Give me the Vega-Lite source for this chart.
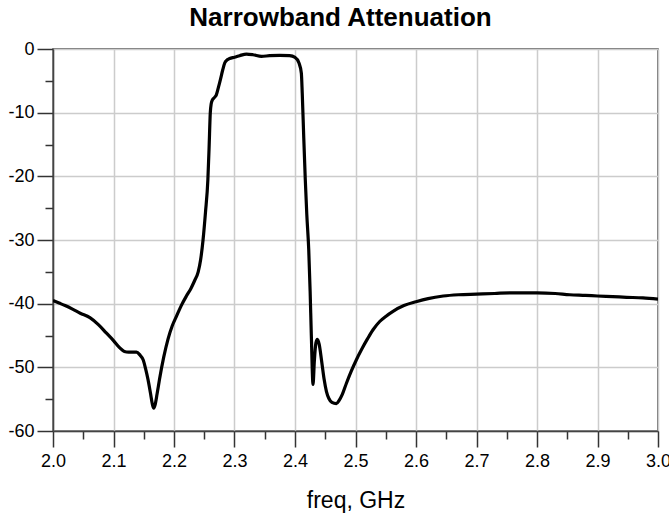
{
  "$schema": "https://vega.github.io/schema/vega-lite/v6.json",
  "autosize": "none",
  "width": 605,
  "height": 382,
  "padding": {"left": 53, "top": 49, "right": 11, "bottom": 86},
  "background": "white",
  "config": {
    "view": {"stroke": "#444444", "strokeWidth": 1.5},
    "font": "Liberation Sans"
  },
  "title": {
    "text": "Narrowband Attenuation",
    "fontSize": 26,
    "fontWeight": "bold",
    "font": "Liberation Sans",
    "color": "black",
    "offset": 9,
    "dx": -15
  },
  "data": {
    "values": [
      {"f": 2.000, "a": -39.5}, {"f": 2.010, "a": -39.9}, {"f": 2.020, "a": -40.3},
      {"f": 2.033, "a": -40.9}, {"f": 2.045, "a": -41.5}, {"f": 2.061, "a": -42.2},
      {"f": 2.075, "a": -43.3}, {"f": 2.088, "a": -44.6}, {"f": 2.100, "a": -45.8},
      {"f": 2.110, "a": -46.9}, {"f": 2.118, "a": -47.5}, {"f": 2.125, "a": -47.6},
      {"f": 2.138, "a": -47.6}, {"f": 2.144, "a": -48.1}, {"f": 2.149, "a": -48.8},
      {"f": 2.153, "a": -50.2}, {"f": 2.157, "a": -51.9}, {"f": 2.161, "a": -54.0},
      {"f": 2.1645, "a": -55.9}, {"f": 2.1665, "a": -56.4}, {"f": 2.169, "a": -55.8},
      {"f": 2.172, "a": -54.2}, {"f": 2.176, "a": -51.9}, {"f": 2.183, "a": -48.4},
      {"f": 2.190, "a": -45.6}, {"f": 2.197, "a": -43.5}, {"f": 2.204, "a": -42.0},
      {"f": 2.212, "a": -40.3}, {"f": 2.2205, "a": -38.8}, {"f": 2.228, "a": -37.6},
      {"f": 2.234, "a": -36.4}, {"f": 2.240, "a": -35.0}, {"f": 2.244, "a": -33.1},
      {"f": 2.248, "a": -30.0}, {"f": 2.252, "a": -25.7}, {"f": 2.256, "a": -20.5},
      {"f": 2.258, "a": -15.5}, {"f": 2.260, "a": -10.0}, {"f": 2.2615, "a": -8.6},
      {"f": 2.2635, "a": -8.0}, {"f": 2.267, "a": -7.6}, {"f": 2.270, "a": -7.2},
      {"f": 2.2735, "a": -6.0}, {"f": 2.2767, "a": -4.8}, {"f": 2.2805, "a": -3.3},
      {"f": 2.2838, "a": -2.2}, {"f": 2.288, "a": -1.7}, {"f": 2.292, "a": -1.5},
      {"f": 2.300, "a": -1.3}, {"f": 2.3085, "a": -1.05}, {"f": 2.3197, "a": -0.8},
      {"f": 2.3306, "a": -0.9}, {"f": 2.3445, "a": -1.15}, {"f": 2.358, "a": -1.05},
      {"f": 2.3747, "a": -1.0}, {"f": 2.391, "a": -1.05}, {"f": 2.400, "a": -1.3},
      {"f": 2.4066, "a": -2.2}, {"f": 2.4105, "a": -3.8}, {"f": 2.412, "a": -7.0},
      {"f": 2.4145, "a": -14.0}, {"f": 2.417, "a": -20.5}, {"f": 2.4195, "a": -26.0},
      {"f": 2.4227, "a": -31.5}, {"f": 2.425, "a": -38.0}, {"f": 2.427, "a": -45.0},
      {"f": 2.4298, "a": -52.7}, {"f": 2.432, "a": -49.0}, {"f": 2.4345, "a": -46.2},
      {"f": 2.437, "a": -45.6}, {"f": 2.440, "a": -46.4}, {"f": 2.444, "a": -49.0},
      {"f": 2.448, "a": -51.8}, {"f": 2.452, "a": -53.8}, {"f": 2.456, "a": -54.9},
      {"f": 2.461, "a": -55.5}, {"f": 2.4684, "a": -55.7}, {"f": 2.473, "a": -55.2},
      {"f": 2.478, "a": -54.3}, {"f": 2.485, "a": -52.5}, {"f": 2.493, "a": -50.6},
      {"f": 2.5015, "a": -48.8}, {"f": 2.510, "a": -47.2}, {"f": 2.520, "a": -45.5},
      {"f": 2.529, "a": -44.1}, {"f": 2.540, "a": -42.8}, {"f": 2.550, "a": -42.0},
      {"f": 2.562, "a": -41.2}, {"f": 2.580, "a": -40.3}, {"f": 2.600, "a": -39.7},
      {"f": 2.620, "a": -39.2}, {"f": 2.645, "a": -38.8}, {"f": 2.670, "a": -38.6},
      {"f": 2.700, "a": -38.5}, {"f": 2.730, "a": -38.4}, {"f": 2.755, "a": -38.3},
      {"f": 2.800, "a": -38.3}, {"f": 2.830, "a": -38.4}, {"f": 2.854, "a": -38.6},
      {"f": 2.880, "a": -38.7}, {"f": 2.900, "a": -38.8}, {"f": 2.925, "a": -38.9},
      {"f": 2.948, "a": -39.0}, {"f": 2.975, "a": -39.1}, {"f": 3.000, "a": -39.3}
    ]
  },
  "layer": [
    {
      "mark": {"type": "line", "strokeOpacity": 0, "clip": true},
      "encoding": {
        "x": {
          "field": "f", "type": "quantitative",
          "scale": {"domain": [2.0, 3.0], "nice": false, "zero": false},
          "axis": {
            "orient": "bottom",
            "values": [2.05, 2.15, 2.25, 2.35, 2.45, 2.55, 2.65, 2.75, 2.85, 2.95],
            "labels": false, "grid": false, "domain": false,
            "tickSize": 8, "tickColor": "#333333", "tickWidth": 1.5, "title": null
          }
        },
        "y": {
          "field": "a", "type": "quantitative",
          "scale": {"domain": [-60, 0], "nice": false, "zero": false},
          "axis": {
            "orient": "left",
            "values": [-5, -15, -25, -35, -45, -55],
            "labels": false, "grid": false, "domain": false,
            "tickSize": 8, "tickColor": "#333333", "tickWidth": 1.5, "title": null
          }
        }
      }
    },
    {
      "mark": {"type": "line", "color": "black", "strokeWidth": 3.2, "interpolate": "monotone", "clip": true},
      "encoding": {
        "x": {
          "field": "f", "type": "quantitative",
          "scale": {"domain": [2.0, 3.0], "nice": false, "zero": false},
          "axis": {
            "orient": "bottom",
            "values": [2.0, 2.1, 2.2, 2.3, 2.4, 2.5, 2.6, 2.7, 2.8, 2.9, 3.0],
            "format": ".1f",
            "grid": true, "gridColor": "#cccccc", "gridWidth": 1.5,
            "domainColor": "#444444", "domainWidth": 1.5,
            "tickSize": 16, "tickColor": "#333333", "tickWidth": 1.5,
            "labelFontSize": 18, "labelColor": "black", "labelPadding": 5,
            "labelFont": "Liberation Sans", "labelFlush": false, "labelOverlap": false,
            "title": "freq, GHz", "titleFontSize": 23, "titleFontWeight": "normal",
            "titleColor": "black", "titleFont": "Liberation Sans", "titlePadding": 19
          }
        },
        "y": {
          "field": "a", "type": "quantitative",
          "scale": {"domain": [-60, 0], "nice": false, "zero": false},
          "axis": {
            "orient": "left",
            "values": [0, -10, -20, -30, -40, -50, -60],
            "labelExpr": "datum.value == 0 ? '0' : '-' + abs(datum.value)",
            "grid": true, "gridColor": "#cccccc", "gridWidth": 1.5,
            "domainColor": "#444444", "domainWidth": 1.5,
            "tickSize": 16, "tickColor": "#333333", "tickWidth": 1.5,
            "labelFontSize": 18, "labelColor": "black", "labelPadding": 3,
            "labelFont": "Liberation Sans", "labelFlush": false, "labelOverlap": false,
            "title": null
          }
        }
      }
    }
  ],
  "resolve": {"axis": {"x": "independent", "y": "independent"}}
}
